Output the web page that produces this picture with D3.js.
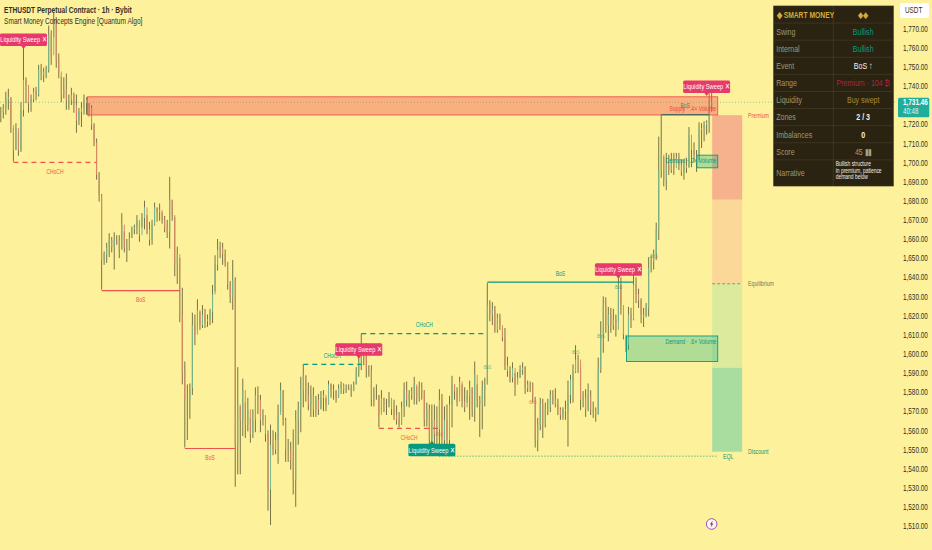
<!DOCTYPE html>
<html>
<head>
<meta charset="utf-8">
<script src="https://cdn.jsdelivr.net/npm/d3@7"></script>
<style>
  html, body { margin: 0; padding: 0; background: #fef19b; overflow: hidden; }
  svg { display: block; }
  text { font-family: "Liberation Sans", sans-serif; }
</style>
</head>
<body>
<svg id="chart" width="932" height="550"></svg>
<script>
// Hourly candles, from 21 Jun 16:00 on.
const highs = [1729,1730.5,1737,1738.5,1734,1718,1720.5,1716,1731.5,1760.5,1744.5,1740,1735.5,1739,1739.5,1751,1751.5,1749.5,1750.5,1771.5,
  1769,1778.5,1776,1757,1745,1744.5,1746.5,1735.5,1739,1736.5,1735.5,1728.5,1731.5,1735.5,1734,1731,1730,1720.5,1712.5,1695,
  1683.5,1653.5,1658,1663,1661,1663.5,1662,1662,1673.5,1664,1660,1663.5,1666.5,1667.5,1672.5,1668.5,1673.5,1680,1672.5,1669,
  1670,1679,1676.5,1678.5,1674,1672,1670,1692.5,1680.5,1671.5,1656,1650,1634.5,1596,1584,1584.5,1621.5,1620.5,1628.5,1622,
  1625.5,1623.5,1620.5,1623.5,1636,1651.5,1660,1658.5,1658,1654.5,1648,1638,1649,1640,1593,1572.5,1587,1574.5,1577,1566.5,
  1571,1582.5,1583,1578.5,1571,1567.5,1560,1563,1560,1559,1573.5,1585,1581,1566.5,1555.5,1554,1560.5,1570.5,1575,1588,
  1594.5,1588.5,1585,1583.5,1582.5,1578,1579,1580.5,1581,1577,1586,1584.5,1584,1581,1584,1585.5,1584.5,1584,1584,1584,
  1585.5,1593,1598.5,1610.5,1604.5,1605.5,1594,1594,1582.5,1584,1578.5,1581,1577,1576.5,1580,1575,1576,1573,1569.5,1575,
  1585,1585.5,1581,1582.5,1588,1583,1585.5,1585,1581,1574.5,1573.5,1573.5,1573.5,1572.5,1581.5,1579,1572.5,1573.5,1578,1588.5,
  1584,1582.5,1588,1584,1582.5,1581,1586,1582.5,1596,1584,1578,1586,1587.5,1637,1628,1627,1625,1621,1621,1613.5,
  1613.5,1598.5,1593.5,1595.5,1590,1590.5,1594,1595.5,1593.5,1586,1585.5,1585,1577.5,1566.5,1577,1576.5,1574.5,1576.5,1581,1581,
  1582,1576.5,1572,1572,1575.5,1586,1589,1594.5,1604.5,1599.5,1593,1580.5,1581.5,1584.5,1581,1575,1572,1598,1617,1630,
  1629.5,1624.5,1624,1623.5,1620.5,1643,1640,1620.5,1609,1624.5,1624,1642.5,1640,1634,1629,1624,1626.5,1650.5,1651,1654.5,
  1668.5,1713.5,1725,1703,1705,1704,1705,1705,1705,1705,1701.5,1701.5,1702.5,1718.5,1711.5,1710.5,1706.5,1721,1720.5,1721.5,
  1722,1736.5,1739];
const lows = [1721,1723,1725,1727.5,1715.5,1700.5,1706.5,1703.5,1705.5,1724,1731,1726,1726.5,1731.5,1732.5,1734.5,1743,1742,1744,1747,
  1751,1765.5,1749.5,1744,1731.5,1733.5,1727.5,1727.5,1730,1726,1715.5,1719.5,1718.5,1725,1725,1724,1717,1708.5,1691,1679.5,
  1633.5,1646.5,1647.5,1650.5,1653,1644,1657,1650,1654.5,1653,1648,1654,1660.5,1662.5,1662.5,1658.5,1666,1665,1662.5,1656.5,
  1657,1667,1669,1669.5,1668,1663.5,1660.5,1655,1669.5,1640.5,1636.5,1616.5,1584,1551,1555,1566,1578.5,1604.5,1612.5,1612.5,
  1613.5,1613.5,1614,1615,1616,1632.5,1643.5,1650,1646.5,1645.5,1633.5,1626.5,1623,1530.5,1537,1537,1557,1556,1559.5,1553.5,
  1556,1559,1568.5,1559,1562.5,1554,1518,1510.5,1547,1547.5,1542.5,1569.5,1562.5,1543.5,1543.5,1539.5,1526.5,1520,1552.5,1559,
  1572,1575,1570.5,1567,1567,1567,1568,1571,1570,1570,1573.5,1577,1576,1574.5,1577,1579,1579,1579.5,1581,1577.5,
  1580.5,1584,1588,1591.5,1594,1587.5,1588,1572.5,1572.5,1576,1561.5,1569.5,1569.5,1568,1572,1568,1565.5,1563,1561.5,1563,
  1567,1572.5,1572,1576,1573.5,1573.5,1575,1576,1562,1562,1550,1546.5,1551,1552.5,1546.5,1551,1549,1549,1546.5,1561.5,
  1576,1572.5,1578.5,1572,1569.5,1574.5,1565.5,1567,1564.5,1572,1556.5,1560.5,1572.5,1584,1617,1615,1611,1611,1612.5,1606.5,
  1591.5,1588,1585,1585,1578,1584,1587.5,1589,1579,1580,1580,1574.5,1551,1549,1560,1556,1561.5,1568,1569.5,1573.5,
  1572,1568,1565.5,1565.5,1565.5,1551.5,1574,1574.5,1590,1590,1570.5,1572,1567,1570,1568,1566.5,1564.5,1568.5,1590,1600.5,
  1611,1606.5,1611,1612.5,1609,1617,1620.5,1607.5,1601,1602,1613.5,1617.5,1626.5,1624,1616,1614,1619.5,1619.5,1642.5,1644,
  1649,1659.5,1692,1687.5,1685.5,1693.5,1694.5,1693.5,1700,1696,1693,1691,1694.5,1697.5,1697.5,1700,1695,1701.5,1707.5,1711,
  1714.5,1715.5,1726.5];
const closes = [1726.5,1728.5,1733,1734,1719.5,1706.5,1718,1706.5,1727.5,1743,1740.5,1731,1733,1737,1735.5,1748.5,1747.5,1745.5,1748.5,1766.5,
  1756,1774.5,1753.5,1747.5,1735.5,1738,1732.5,1732.5,1735.5,1730,1722,1726.5,1728.5,1733,1731,1728.5,1719.5,1710.5,1693.5,1683,
  1649,1652,1655.5,1659.5,1655.5,1659.5,1659.5,1654.5,1667.5,1655.5,1654.5,1660.5,1665,1666,1670,1662,1671,1676.5,1665,1659.5,
  1667.5,1676.5,1674,1675,1670,1666,1664,1680.5,1672.5,1646.5,1652,1620.5,1590.5,1576,1576,1582,1615,1610,1623,1615,
  1620.5,1617,1618,1622,1631,1646.5,1654.5,1655.5,1652,1648,1636,1629.5,1638.5,1552.5,1573.5,1565.5,1581,1563,1571,1558,
  1565.5,1578.5,1576,1565.5,1568,1558,1529,1552.5,1550,1555,1568,1581,1565.5,1550,1550,1544.5,1534,1565.5,1571,1581,
  1589,1578.5,1573.5,1578.5,1571,1576,1571,1577,1578.5,1573.5,1584,1581,1580.5,1577,1582,1584,1581,1582,1582,1580.5,
  1584,1590.5,1596,1604.5,1601,1592,1591,1576,1578.5,1578.5,1568,1577,1573.5,1573.5,1577,1571,1568,1565.5,1563,1572,
  1581,1576,1578.5,1580.5,1584,1577,1582,1580.5,1565.5,1571,1555,1565.5,1558,1560.5,1576,1555,1565.5,1555,1573.5,1584,
  1580.5,1575,1585.5,1575,1572,1578,1582,1571,1589,1576,1573.5,1581,1584,1625.5,1620.5,1623,1612.5,1619,1615,1608.5,
  1594,1591,1587.5,1592.5,1584,1587.5,1591.5,1592.5,1582,1584,1584,1577,1555,1563,1573.5,1563,1571,1572,1578.5,1576,
  1573.5,1571,1568,1571,1570,1578.5,1586.5,1590.5,1597,1597,1576,1577,1571,1578.5,1571,1570,1568,1591.5,1610,1625.5,
  1615,1620.5,1615,1618,1612.5,1636,1625.5,1610,1604.5,1620.5,1618,1636,1631,1628,1620.5,1619,1624,1645,1648,1652,
  1664.5,1696,1704,1691,1698.5,1696,1701.5,1697,1702.5,1698.5,1695,1698.5,1697,1714.5,1706.5,1704,1700,1717,1718,1719.5,
  1721,1730,1731.46];

// Axis labels.
const dayLabels = ["22","12:00","23","12:00","24","12:00","25","12:00","26","12:00","27","12:00","28","12:00","29","12:00","30","12:00","Jul","12:00","2","12:00","3","12:00","4","12:00","5","12:00","6","12:00"];
const priceTicks = [1770,1760,1750,1740,1720,1710,1700,1690,1680,1670,1660,1650,1640,1630,1620,1610,1600,1590,1580,1570,1560,1550,1540,1530,1520,1510];
const lastPrice = 1731.46;
const countdown = "40:48";

// Structure breaks.
const breakFrom = [5, 40, 73, 120, 143, 150, 193, 262];
const breakTo = [38, 71, 93, 143, 193, 174, 251, 281];
const breakPrice = [1700, 1633, 1550.5, 1594.5, 1610.5, 1561, 1637.5, 1725];
const breakName = ["CHoCH", "BoS", "BoS", "CHoCH", "CHoCH", "CHoCH", "BoS", "BoS"];
const breakSide = ["bear", "bear", "bear", "bull", "bull", "bear", "bull", "bull"];

// Order blocks.
const zoneFrom = [34.4, 248.2, 276.1];
const zoneTo = [284.4, 284.4, 284.4];
const zoneTop = [1734.3, 1609.3, 1703.8];
const zoneBottom = [1724.8, 1596, 1697.2];
const zoneName = ["Supply · .4× Volume", "Demand · .6× Volume", "Demand · .2× Volume"];

// Premium / discount range.
const rangeLevels = [1724.7, 1680.5, 1636.6, 1592.7, 1548.8];
const rangeFrom = 282.2;
const rangeTo = 294.1;

// Equal lows.
const eqlFrom = 174;
const eqlTo = 284.2;
const eqlPrice = 1546.5;

// Liquidity sweep tags.
const sweepBar = [9, 142, 245, 280, 171];
const sweepPrice = [1759.8, 1597.9, 1639.7, 1735.3, 1554];
const sweepSide = ["bear", "bear", "bear", "bear", "bull"];

// Small internal structure marks.
const internalBar = [174, 193, 211, 228, 238, 245, 259];
const internalPrice = [1557, 1592, 1574, 1600, 1608, 1634, 1650];
const internalSide = ["bear", "bull", "bear", "bull", "bull", "bull", "bull"];

// Dashboard.
const panelLabels = ["Swing", "Internal", "Event", "Range", "Liquidity", "Zones", "Imbalances", "Score", "Narrative"];
const panelValues = ["Bullish", "Bullish", "BoS ↑", "Premium · 104 ₿", "Buy swept", "2 / 3", "0", "45 ▮▮", ""];
const narrativeLines = ["Bullish structure", "in premium, patience", "demand below"];

const bull = "#089981";
const bear = "#ef5350";
const sweepRed = "#e8396b";
const ink = "#2f2f28";

const svg = d3.select("#chart");

// Scale.
const x = d3.scaleLinear().domain([0, 360]).range([0.8, 0.8 + 360 * 2.5208]);
const y = d3.scaleLinear().domain([1770, 1510]).range([28.5, 526]);

// Axes.
const xAxis = d3.axisBottom(x)
  .tickValues(dayLabels.map((d, i) => 8 + i * 12))
  .tickFormat((d, i) => dayLabels[i])
  .tickSize(0);

svg.append("clipPath").attr("id", "xclip")
  .append("rect").attr("x", 0).attr("y", 530).attr("width", 899).attr("height", 20);

svg.append("g")
  .attr("class", "x axis")
  .attr("clip-path", "url(#xclip)")
  .attr("transform", "translate(0,537)")
  .call(xAxis)
  .call(g => g.select(".domain").remove())
  .selectAll("text")
  .attr("y", 3)
  .attr("font-size", 8.5)
  .attr("fill", ink);

const yAxis = d3.axisRight(y)
  .tickValues(priceTicks)
  .tickFormat(d3.format(",.2f"))
  .tickSize(0);

svg.append("g")
  .attr("class", "y axis")
  .attr("transform", "translate(903,0)")
  .call(yAxis)
  .call(g => g.select(".domain").remove())
  .selectAll("text")
  .attr("x", 0)
  .attr("font-size", 8.5)
  .attr("fill", ink);

// Axis sets a font on the group, drop it so the css font holds.
svg.selectAll(".axis").attr("font-family", null);

// Last price line.
svg.append("line")
  .attr("x1", 0).attr("x2", 897)
  .attr("y1", y(lastPrice)).attr("y2", y(lastPrice))
  .attr("stroke", bull)
  .attr("stroke-opacity", 0.6)
  .attr("stroke-width", 0.7)
  .attr("stroke-dasharray", "1,2");

// Candles.
const candles = svg.append("g").selectAll("g")
  .data(closes.map((c, i) => i))
  .enter()
  .append("g");

candles.append("line")
  .attr("x1", i => x(i)).attr("x2", i => x(i))
  .attr("y1", i => y(highs[i])).attr("y2", i => y(lows[i]))
  .attr("stroke", "#6f6d40")
  .attr("stroke-width", 0.95);

candles.append("line")
  .attr("x1", i => x(i)).attr("x2", i => x(i))
  .attr("y1", i => y(i ? closes[i - 1] : closes[i]))
  .attr("y2", i => y(closes[i]))
  .attr("stroke", i => (i && closes[i] < closes[i - 1]) ? "#dc8a62" : "#78b98c")
  .attr("stroke-width", 1);

// Range columns.
const rangeFill = ["#f6b28c", "#fbd798", "#dcea9e", "#a9dc9f"];
svg.append("g").selectAll("rect")
  .data(rangeFill)
  .enter()
  .append("rect")
  .attr("x", x(rangeFrom))
  .attr("width", x(rangeTo) - x(rangeFrom))
  .attr("y", (d, i) => y(rangeLevels[i]))
  .attr("height", (d, i) => y(rangeLevels[i + 1]) - y(rangeLevels[i]))
  .attr("fill", d => d);

svg.append("line")
  .attr("x1", x(rangeFrom)).attr("x2", x(rangeTo))
  .attr("y1", y(rangeLevels[2])).attr("y2", y(rangeLevels[2]))
  .attr("stroke", "#7a7a5c")
  .attr("stroke-width", 0.8)
  .attr("stroke-dasharray", "3,2");

const rangeText = [["Premium", 0, bear], ["Equilibrium", 2, "#6f7558"], ["Discount", 4, bull]];
svg.append("g").selectAll("text")
  .data(rangeText)
  .enter()
  .append("text")
  .attr("x", 748)
  .attr("y", d => y(rangeLevels[d[1]]))
  .attr("dy", "0.35em")
  .attr("font-size", 7)
  .attr("fill", d => d[2])
  .text(d => d[0]);

// Order blocks.
const zones = svg.append("g").selectAll("g")
  .data(zoneName)
  .enter()
  .append("g");

zones.append("rect")
  .attr("x", (d, i) => x(zoneFrom[i]))
  .attr("width", (d, i) => x(zoneTo[i]) - x(zoneFrom[i]))
  .attr("y", (d, i) => y(zoneTop[i]))
  .attr("height", (d, i) => y(zoneBottom[i]) - y(zoneTop[i]))
  .attr("fill", (d, i) => i ? "#1fb58c" : "#ee5555")
  .attr("fill-opacity", (d, i) => i ? 0.35 : 0.42)
  .attr("stroke", (d, i) => i ? bull : bear)
  .attr("stroke-width", 0.9);

zones.append("text")
  .attr("x", (d, i) => x(zoneTo[i]) - 1.5)
  .attr("y", (d, i) => i === 0 ? y(zoneBottom[i]) - 4 : y(zoneTop[i]) + 8)
  .attr("text-anchor", "end")
  .attr("font-size", 7)
  .attr("fill", (d, i) => i ? bull : "#e8483f")
  .text(d => d);

// Structure lines.
const breaks = svg.append("g").selectAll("g")
  .data(breakName)
  .enter()
  .append("g");

breaks.append("line")
  .attr("x1", (d, i) => x(breakFrom[i]))
  .attr("x2", (d, i) => x(breakTo[i]))
  .attr("y1", (d, i) => y(breakPrice[i]))
  .attr("y2", (d, i) => y(breakPrice[i]))
  .attr("stroke", (d, i) => i === 7 ? "#4f6a60" : breakSide[i] === "bull" ? bull : bear)
  .attr("stroke-width", 1.2)
  .attr("stroke-dasharray", d => d === "CHoCH" ? "5,4" : null);

breaks.append("text")
  .attr("x", (d, i) => (x(breakFrom[i]) + x(breakTo[i])) / 2)
  .attr("y", (d, i) => y(breakPrice[i]) + (breakSide[i] === "bull" ? -6.5 : 11.5))
  .attr("text-anchor", "middle")
  .attr("font-size", 6.6)
  .attr("fill", (d, i) => breakSide[i] === "bull" ? bull : bear)
  .text(d => d);

svg.append("g").selectAll("text")
  .data(internalBar)
  .enter()
  .append("text")
  .attr("x", d => x(d))
  .attr("y", (d, i) => y(internalPrice[i]))
  .attr("text-anchor", "middle")
  .attr("font-size", 5)
  .attr("fill-opacity", 0.7)
  .attr("fill", (d, i) => internalSide[i] === "bull" ? bull : bear)
  .text("iBoS");

// Equal lows.
svg.append("line")
  .attr("x1", x(eqlFrom)).attr("x2", x(eqlTo))
  .attr("y1", y(eqlPrice)).attr("y2", y(eqlPrice))
  .attr("stroke", bull)
  .attr("stroke-width", 0.9)
  .attr("stroke-dasharray", "1,2");

svg.append("text")
  .attr("x", 723)
  .attr("y", y(eqlPrice))
  .attr("dy", "0.35em")
  .attr("font-size", 7)
  .attr("fill", bull)
  .text("EQL");

// Sweep tags.
const tags = svg.append("g").selectAll("g")
  .data(sweepBar)
  .enter()
  .append("g")
  .attr("transform", (d, i) => "translate(" + x(d) + "," + y(sweepPrice[i]) + ")");

tags.append("path")
  .attr("d", (d, i) => sweepSide[i] === "bear" ? "M-3,-3L0,1L3,-3Z" : "M-3,3L0,-1L3,3Z")
  .attr("fill", (d, i) => sweepSide[i] === "bear" ? sweepRed : bull);

tags.append("rect")
  .attr("x", -23.5)
  .attr("y", (d, i) => sweepSide[i] === "bear" ? -14.5 : 2)
  .attr("width", 47)
  .attr("height", 12.5)
  .attr("rx", 1.5)
  .attr("fill", (d, i) => sweepSide[i] === "bear" ? sweepRed : bull);

tags.append("text")
  .attr("x", 0)
  .attr("y", (d, i) => sweepSide[i] === "bear" ? -5.8 : 10.7)
  .attr("text-anchor", "middle")
  .attr("font-size", 7.6)
  .attr("fill", "#fff")
  .text("Liquidity Sweep ✕");

// Header.
svg.append("text")
  .attr("x", 4).attr("y", 13)
  .attr("font-size", 8.8)
  .attr("font-weight", 700)
  .attr("fill", ink)
  .text("ETHUSDT Perpetual Contract · 1h · Bybit");

svg.append("text")
  .attr("x", 4).attr("y", 24)
  .attr("font-size", 8.8)
  .attr("fill", ink)
  .text("Smart Money Concepts Engine [Quantum Algo]");

// Dashboard panel.
const panel = svg.append("g").attr("transform", "translate(773.7,6)");
const panelW = 119.6;
const colX = 59.6;
const rowH = 17.1;
const valueColor = ["#089981", "#089981", "#f4f1e4", "#a8244c", "#b08a2a", "#f4f1e4", "#f4f1e4", "#a89f7c", "#f4f1e4"];

panel.append("rect")
  .attr("width", panelW)
  .attr("height", 180)
  .attr("fill", "#2a2312")
  .attr("stroke", "#3d3520")
  .attr("stroke-width", 0.7);

panel.append("line")
  .attr("x1", colX).attr("x2", colX)
  .attr("y1", 0).attr("y2", 180)
  .attr("stroke", "#4b4229")
  .attr("stroke-width", 0.6);

panel.selectAll(".row-line")
  .data(panelLabels)
  .enter()
  .append("line")
  .attr("x1", 0).attr("x2", panelW)
  .attr("y1", (d, i) => (i + 1) * rowH)
  .attr("y2", (d, i) => (i + 1) * rowH)
  .attr("stroke", "#4b4229")
  .attr("stroke-width", 0.6);

panel.append("text")
  .attr("x", 3).attr("y", rowH / 2)
  .attr("dy", "0.35em")
  .attr("font-size", 9)
  .attr("font-weight", 700)
  .attr("fill", "#d4ac3a")
  .text("◆ SMART MONEY");

panel.append("text")
  .attr("x", 89.5).attr("y", rowH / 2)
  .attr("dy", "0.35em")
  .attr("text-anchor", "middle")
  .attr("font-size", 9)
  .attr("fill", "#d4ac3a")
  .text("◆◆");

panel.selectAll(".row-label")
  .data(panelLabels)
  .enter()
  .append("text")
  .attr("x", 2.5)
  .attr("y", (d, i) => i === 8 ? 167 : (i + 1.5) * rowH)
  .attr("dy", "0.35em")
  .attr("font-size", 9.4)
  .attr("fill", "#a2966c")
  .text(d => d);

panel.selectAll(".row-value")
  .data(panelValues)
  .enter()
  .append("text")
  .attr("x", 89.5)
  .attr("y", (d, i) => (i + 1.5) * rowH)
  .attr("dy", "0.35em")
  .attr("text-anchor", "middle")
  .attr("font-size", 9.4)
  .attr("font-weight", (d, i) => (i === 5 || i === 6) ? 700 : 400)
  .attr("fill", (d, i) => valueColor[i])
  .text(d => d);

panel.selectAll(".narrative")
  .data(narrativeLines)
  .enter()
  .append("text")
  .attr("x", 62)
  .attr("y", (d, i) => 160.5 + i * 6.4)
  .attr("font-size", 6.6)
  .attr("fill", "#f4f1e4")
  .text(d => d);

// Price axis extras.
svg.append("rect")
  .attr("x", 900).attr("y", 3)
  .attr("width", 29).attr("height", 15)
  .attr("rx", 2)
  .attr("fill", "#fff");

svg.append("text")
  .attr("x", 905).attr("y", 13.5)
  .attr("font-size", 8.5)
  .attr("fill", ink)
  .text("USDT");

svg.append("rect")
  .attr("x", 898).attr("y", 97.7)
  .attr("width", 31.3).attr("height", 19.6)
  .attr("rx", 1.5)
  .attr("fill", "#1fae9c");

svg.append("text")
  .attr("x", 903).attr("y", 105)
  .attr("font-size", 8.5)
  .attr("font-weight", 700)
  .attr("fill", "#fff")
  .text(d3.format(",.2f")(lastPrice));

svg.append("text")
  .attr("x", 903).attr("y", 114.5)
  .attr("font-size", 8.2)
  .attr("fill", "#e6f6ee")
  .text(countdown);

// Lightning marker.
const bolt = svg.append("g")
  .attr("transform", "translate(" + x(282) + ",524)");

bolt.append("circle")
  .attr("r", 5.3)
  .attr("fill", "#fff8e6")
  .attr("stroke", "#9c4ec4")
  .attr("stroke-width", 1);

bolt.append("path")
  .attr("d", "M1,-3.4L-1.8,0.5L-0.2,0.5L-1,3.4L1.8,-0.5L0.2,-0.5Z")
  .attr("fill", "#7b2fa8");

// The chart's font runs narrow, none installed is that narrow, so squeeze all text about its own x.
const squeeze = 0.75;
svg.selectAll("text").each(function () {
  const t = d3.select(this);
  const ax = +t.attr("x") || 0;
  t.attr("transform", "translate(" + ax * (1 - squeeze) + ",0) scale(" + squeeze + ",1)");
});
</script>
</body>
</html>
